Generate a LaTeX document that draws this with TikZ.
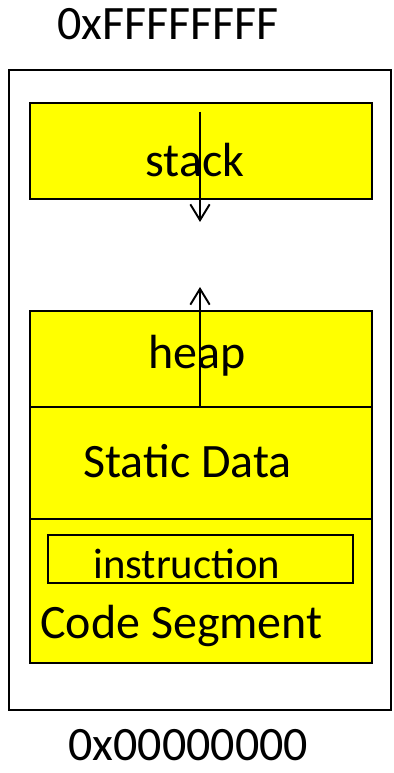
\documentclass[tikz,border=0pt]{standalone}
\usepackage{fontspec}
\setmainfont{Carlito}
\usetikzlibrary{arrows.meta}
\definecolor{segyellow}{RGB}{255, 255, 0}
\tikzset{>={Straight Barb[length=9pt,width=11pt]}}
\tikzset{seg/.style = {draw, fill = segyellow, line width = 1.1pt},
  lbl/.style = {anchor = base west, inner sep = 0pt, font = \fontsize{27.3}{31}\selectfont}}

\begin{document}
\begin{tikzpicture}[x = 0.02cm, y = -0.02cm]
\useasboundingbox (0,0) rectangle (393,773);
\draw[line width = 1.1pt] (9,70) rectangle (391,710);
\draw[seg] (30,103) rectangle (372,199);
\draw[seg] (30,311) rectangle (372,407);
\draw[seg] (30,407) rectangle (372,519);
\draw[seg] (30,519) rectangle (372,663);
\draw[line width = 1.1pt] (48,535) rectangle (353,583);
\node[lbl] (top) at (57,40) {0xFFFFFFFF};
\node[lbl] (bottom) at (68,760) {0x00000000};
\node[lbl] (stack) at (145,177) {stack};
\node[lbl] (heap) at (148,368) {heap};
\node[lbl] (static) at (83,477) {Static Data};
\node[lbl, font = \fontsize{24.3}{28}\selectfont] (instr) at (93,578) {instruction};
\node[lbl] (code) at (40,638) {Code Segment};
\coordinate (s1) at (200,112);
\coordinate (s2) at (200,222);
\coordinate (h1) at (200,407);
\coordinate (h2) at (200,287);
\draw[->, line width = 1.1pt] (s1) -- (s2);
\draw[->, line width = 1.1pt] (h1) -- (h2);
\end{tikzpicture}
\end{document}
